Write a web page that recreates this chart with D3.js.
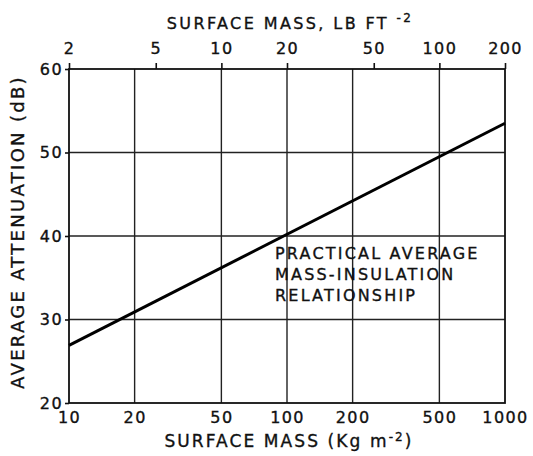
<!DOCTYPE html>
<html>
<head>
<meta charset="utf-8">
<script src="https://cdn.jsdelivr.net/npm/d3@7"></script>
<style>
  body { margin: 0; background: #fff; }
  text { font-family: "DejaVu Sans", sans-serif; fill: #111; stroke: #111; stroke-width: 0.35px; }
</style>
</head>
<body>
<div id="chart"></div>
<script>
// chart values
var kgTicks = [10, 20, 50, 100, 200, 500, 1000]
var lbTicks = [2, 5, 10, 20, 50, 100, 200]
var dbTicks = [20, 30, 40, 50, 60]
var lineMass = [10, 1000]     // kg m-2
var lineAtten = [26.9, 53.5]  // dB
var noteLines = ["PRACTICAL AVERAGE", "MASS-INSULATION", "RELATIONSHIP"]

var width = 533
var height = 456
var plotL = 69, plotR = 505, plotT = 69, plotB = 403

var svg = d3.select("#chart").append("svg")
	.attr("width", width)
	.attr("height", height)

var x = d3.scaleLog().domain([10, 1000]).range([plotL, plotR])
var xTop = d3.scaleLog().domain([2, 200]).range([plotL, plotR])
var y = d3.scaleLinear().domain([20, 60]).range([plotB, plotT])

// grid
svg.append("g").selectAll("line")
	.data(kgTicks.slice(1, -1))
	.join("line")
	.attr("x1", d => x(d)).attr("x2", d => x(d))
	.attr("y1", plotT).attr("y2", plotB)
	.attr("stroke", "#222").attr("stroke-width", 1.4)

svg.append("g").selectAll("line")
	.data(dbTicks.slice(1, -1))
	.join("line")
	.attr("x1", plotL).attr("x2", plotR)
	.attr("y1", d => y(d)).attr("y2", d => y(d))
	.attr("stroke", "#222").attr("stroke-width", 1.6)

// frame
svg.append("rect")
	.attr("x", plotL).attr("y", plotT)
	.attr("width", plotR - plotL).attr("height", plotB - plotT)
	.attr("fill", "none").attr("stroke", "#111").attr("stroke-width", 1.8)

// bottom axis labels
var xAxis = svg.append("g")
	.attr("transform", "translate(0," + plotB + ")")
	.call(d3.axisBottom(x).tickValues(kgTicks).tickSize(0).tickPadding(9).tickFormat(d3.format("d")))
xAxis.select(".domain").remove()

// top axis with short ticks
var topAxis = svg.append("g")
	.attr("transform", "translate(0," + plotT + ")")
	.call(d3.axisTop(xTop).tickValues(lbTicks).tickSize(6).tickPadding(9).tickFormat(d3.format("d")))
topAxis.select(".domain").remove()
topAxis.selectAll("line").attr("stroke", "#111").attr("stroke-width", 1.6)

// left axis
var yAxis = svg.append("g")
	.attr("transform", "translate(" + plotL + ",0)")
	.call(d3.axisLeft(y).tickValues(dbTicks).tickSize(4).tickPadding(2))
yAxis.select(".domain").remove()
yAxis.selectAll("line").attr("stroke", "#111").attr("stroke-width", 1.6)

svg.selectAll(".tick text")
	.style("font-size", "16px")
	.style("letter-spacing", "1.4px")
	.attr("fill", "#111")

// titles
svg.append("text")
	.attr("x", 289).attr("y", 447)
	.attr("text-anchor", "middle")
	.style("font-size", "17px").style("letter-spacing", "2.1px")
	.html('SURFACE MASS (Kg m<tspan dy="-6" font-size="12">-2</tspan><tspan dy="6">)</tspan>')

svg.append("text")
	.attr("x", 290).attr("y", 29)
	.attr("text-anchor", "middle")
	.style("font-size", "16px").style("letter-spacing", "2.4px")
	.html('SURFACE MASS, LB FT <tspan dy="-7" font-size="12">-2</tspan>')

svg.append("text")
	.attr("transform", "translate(24," + 232 + ") rotate(-90)")
	.attr("text-anchor", "middle")
	.style("font-size", "18px").style("letter-spacing", "2.3px")
	.text("AVERAGE ATTENUATION (dB)")

// relationship line
var pts = lineMass.map((m, i) => [m, lineAtten[i]])
svg.append("path")
	.datum(pts)
	.attr("fill", "none")
	.attr("stroke", "#000")
	.attr("stroke-width", 3)
	.attr("d", d3.line().x(d => x(d[0])).y(d => y(d[1])))

// note
svg.append("g").selectAll("text")
	.data(noteLines)
	.join("text")
	.attr("x", 275)
	.attr("y", (d, i) => 259 + i * 21)
	.style("font-size", "16px")
	.style("letter-spacing", "2.2px")
	.text(d => d)
</script>
</body>
</html>
